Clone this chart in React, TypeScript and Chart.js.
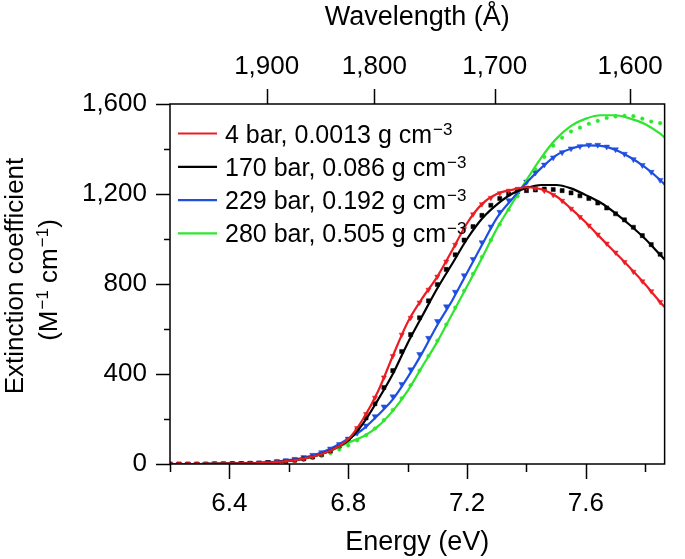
import React, { useEffect, useRef } from 'react';
import { Chart, registerables } from 'chart.js';
Chart.register(...registerables);

const HC = 12398.42; // eV·Å

// Axis ticks
const energyMajorTicks = [6.4, 6.8, 7.2, 7.6];
const energyMinorTicks = [6.2, 6.6, 7.0, 7.4, 7.8];
const yMajorTicks = [0, 400, 800, 1200, 1600];
const yMinorTicks = [200, 600, 1000, 1400];
const wavelengthTicks = [1900, 1800, 1700, 1600];

// Series labels
const seriesLabels = ['4 bar, 0.0013 g cm', '170 bar, 0.086 g cm', '229 bar, 0.192 g cm', '280 bar, 0.505 g cm'];
const seriesSup = '\u22123';
const seriesColors = ['#ec1c24', '#000000', '#1f4fe0', '#2ee62e'];

// Fit curves (lines)
const fitEnergy = [6.20, 6.25, 6.30, 6.35, 6.40, 6.45, 6.50, 6.55, 6.60, 6.65,
  6.70, 6.75, 6.80, 6.85, 6.90, 6.95, 7.00, 7.05, 7.10, 7.15,
  7.20, 7.25, 7.30, 7.35, 7.40, 7.45, 7.50, 7.55, 7.60, 7.65,
  7.70, 7.75, 7.80, 7.85, 7.87];
const fitRed = [0, 0, 0, 1, 1.5, 2.5, 4, 8, 14, 24,
  40, 66, 110, 200, 322, 480, 630, 738, 833, 950,
  1070, 1155, 1200, 1218, 1230, 1221, 1190, 1135, 1073, 1005,
  938, 870, 798, 720, 690];
const fitBlack = [0, 0, 0, 1, 1.5, 2.5, 4, 8, 14, 24,
  40, 66, 105, 180, 285, 400, 537, 660, 781, 890,
  1000, 1090, 1153, 1200, 1227, 1240, 1240, 1225, 1195, 1161,
  1114, 1060, 1000, 930, 902];
const fitBlue = [0, 0, 0, 1, 1.5, 3, 5, 10, 17, 28,
  46, 74, 112, 155, 217, 287, 385, 496, 618, 727,
  850, 973, 1093, 1175, 1250, 1316, 1372, 1401, 1416, 1414,
  1396, 1362, 1318, 1262, 1235];
const fitGreen = [0, 0, 0, 1, 1.5, 2.5, 4, 8, 14, 24,
  40, 64, 95, 122, 167, 236, 325, 435, 544, 667,
  790, 915, 1045, 1155, 1262, 1362, 1445, 1503, 1535, 1550,
  1550, 1535, 1510, 1468, 1445];

// Measured points (markers)
const markerEnergy = [6.20, 6.23, 6.26, 6.29, 6.32, 6.35, 6.38, 6.41, 6.44, 6.47,
  6.50, 6.53, 6.56, 6.59, 6.62, 6.65, 6.68, 6.71, 6.74, 6.77,
  6.80, 6.83, 6.86, 6.89, 6.92, 6.95, 6.98, 7.01, 7.04, 7.07,
  7.10, 7.13, 7.16, 7.19, 7.22, 7.25, 7.28, 7.31, 7.34, 7.37,
  7.40, 7.43, 7.46, 7.49, 7.52, 7.55, 7.58, 7.61, 7.64, 7.67,
  7.70, 7.73, 7.76, 7.79, 7.82, 7.85];
const dataRed = [0, 0, 0, 0, 0, 0, 1, 1, 2, 3,
  4, 6, 9, 12, 17, 23, 32, 44, 60, 82,
  110, 160, 222, 295, 385, 480, 575, 650, 718, 775,
  833, 900, 975, 1045, 1110, 1155, 1183, 1203, 1215, 1223,
  1229, 1226, 1215, 1196, 1170, 1135, 1098, 1060, 1020, 980,
  940, 898, 855, 812, 768, 720];
const dataBlack = [0, 0, 0, 0, 0, 1, 1, 2, 2, 3,
  4, 6, 9, 12, 17, 23, 31, 42, 58, 80,
  108, 150, 205, 268, 340, 415, 500, 575, 650, 725,
  798, 865, 930, 995, 1055, 1105, 1150, 1180, 1200, 1210,
  1215, 1218, 1222, 1220, 1215, 1205, 1192, 1180, 1160, 1138,
  1112, 1085, 1052, 1015, 975, 932];
const dataBlue = [0, 0, 0, 0, 0, 1, 1, 2, 3, 4,
  6, 8, 12, 16, 22, 30, 40, 52, 68, 88,
  112, 138, 170, 212, 255, 300, 355, 420, 488, 560,
  635, 700, 765, 838, 910, 985, 1055, 1120, 1172, 1215,
  1255, 1295, 1330, 1362, 1385, 1402, 1412, 1418, 1418, 1410,
  1398, 1378, 1354, 1328, 1298, 1262];
const dataGreen = [0, 0, 0, 0, 0, 0, 1, 1, 2, 3,
  4, 6, 8, 11, 15, 20, 27, 36, 48, 64,
  82, 105, 128, 158, 195, 240, 292, 350, 415, 480,
  548, 620, 695, 770, 845, 920, 995, 1065, 1130, 1190,
  1250, 1310, 1365, 1415, 1450, 1478, 1495, 1512, 1525, 1538,
  1545, 1548, 1546, 1535, 1522, 1515];

const X_MIN = 6.2;
const X_MAX = 7.865;
const FONT = "'Liberation Sans', Arial, Helvetica, sans-serif";

const fitSeries = [fitRed, fitBlack, fitBlue, fitGreen];
const dataSeries = [dataRed, dataBlack, dataBlue, dataGreen];
const markerStyles = ['triangle', 'rect', 'triangle', 'circle'];
const markerRadius = [3, 2.9, 3.3, 1.8];
const markerRotation = [180, 0, 180, 0];

const decorPlugin = {
  id: 'decor',
  afterDraw(chart: any) {
    const ctx = chart.ctx as CanvasRenderingContext2D;
    const a = chart.chartArea;
    const xs = chart.scales.x;
    const ys = chart.scales.y;
    ctx.save();
    ctx.strokeStyle = '#000';
    ctx.lineWidth = 1.5;
    ctx.strokeRect(a.left, a.top, a.right - a.left, a.bottom - a.top);
    ctx.lineWidth = 1.5;
    ctx.beginPath();
    for (const v of energyMajorTicks) {
      const p = Math.round(xs.getPixelForValue(v)) + 0.5;
      ctx.moveTo(p, a.bottom); ctx.lineTo(p, a.bottom + 15);
    }
    for (const v of energyMinorTicks) {
      const p = Math.round(xs.getPixelForValue(v)) + 0.5;
      ctx.moveTo(p, a.bottom); ctx.lineTo(p, a.bottom + 8);
    }
    for (const w of wavelengthTicks) {
      const p = Math.round(xs.getPixelForValue(HC / w)) + 0.5;
      ctx.moveTo(p, a.top); ctx.lineTo(p, a.top - 15);
    }
    for (const v of yMajorTicks) {
      const p = Math.round(ys.getPixelForValue(v)) + 0.5;
      ctx.moveTo(a.left, p); ctx.lineTo(a.left - 14, p);
    }
    for (const v of yMinorTicks) {
      const p = Math.round(ys.getPixelForValue(v)) + 0.5;
      ctx.moveTo(a.left, p); ctx.lineTo(a.left - 6, p);
    }
    ctx.stroke();

    // Legend
    const fits = chart.data.datasets.slice(0, 4);
    fits.forEach((ds: any, i: number) => {
      const cy = a.top + 29.5 + i * 33.3;
      ctx.strokeStyle = ds.borderColor;
      ctx.lineWidth = 2.2;
      ctx.beginPath();
      ctx.moveTo(a.left + 8, cy);
      ctx.lineTo(a.left + 47, cy);
      ctx.stroke();
      ctx.fillStyle = '#000';
      ctx.textBaseline = 'alphabetic';
      ctx.textAlign = 'left';
      ctx.font = `25px ${FONT}`;
      const tx = a.left + 55;
      ctx.fillText(ds.label, tx, cy + 9);
      const w = ctx.measureText(ds.label).width;
      ctx.font = `17px ${FONT}`;
      ctx.fillText(seriesSup, tx + w + 1, cy + 1);
    });

    // Y-axis title (two lines, rotated)
    ctx.fillStyle = '#000';
    ctx.save();
    ctx.translate(23, 276);
    ctx.rotate(-Math.PI / 2);
    ctx.textAlign = 'center';
    ctx.textBaseline = 'alphabetic';
    ctx.font = `26px ${FONT}`;
    ctx.fillText('Extinction coefficient', 0, 0);
    ctx.restore();

    ctx.save();
    ctx.translate(57, 280);
    ctx.rotate(-Math.PI / 2);
    ctx.textBaseline = 'alphabetic';
    ctx.textAlign = 'left';
    const parts: [string, boolean][] = [['(M', false], ['\u22121', true], [' cm', false], ['\u22121', true], [')', false]];
    const widths = parts.map(([t, sup]) => {
      ctx.font = `${sup ? 17 : 26}px ${FONT}`;
      return ctx.measureText(t).width + (sup ? 1 : 0);
    });
    const total = widths.reduce((s, v) => s + v, 0);
    let px = -total / 2;
    parts.forEach(([t, sup], i) => {
      ctx.font = `${sup ? 17 : 26}px ${FONT}`;
      ctx.fillText(t, px + (sup ? 1 : 0), sup ? -9 : 0);
      px += widths[i];
    });
    ctx.restore();
    ctx.restore();
  },
};

export default function App() {
  const ref = useRef<HTMLCanvasElement>(null);
  useEffect(() => {
    document.body.style.margin = '0';
    Chart.defaults.color = '#000';
    Chart.defaults.font.family = FONT;

    const fitDatasets = fitSeries.map((vals, i) => ({
      label: seriesLabels[i],
      data: fitEnergy.map((e, j) => ({ x: e, y: vals[j] })),
      borderColor: seriesColors[i],
      backgroundColor: seriesColors[i],
      borderWidth: 2.2,
      pointRadius: 0,
      showLine: true,
      cubicInterpolationMode: 'monotone' as const,
      order: 1,
    }));
    const pointDatasets = dataSeries.map((vals, i) => ({
      label: seriesLabels[i] + ' data',
      data: markerEnergy.map((e, j) => ({ x: e, y: vals[j] })),
      borderColor: seriesColors[i],
      backgroundColor: seriesColors[i],
      borderWidth: 0.5,
      pointRadius: markerRadius[i],
      pointStyle: markerStyles[i] as any,
      rotation: markerRotation[i],
      showLine: false,
      order: 2,
    }));

    const tickFont = { size: 26, family: FONT };
    const chart = new Chart(ref.current!, {
      type: 'line',
      data: { datasets: [...fitDatasets, ...pointDatasets] as any },
      plugins: [decorPlugin],
      options: {
        responsive: false,
        animation: false,
        devicePixelRatio: 1,
        layout: { padding: { left: 0, right: 3, top: 0, bottom: 0 } },
        plugins: { legend: { display: false }, tooltip: { enabled: false } },
        scales: {
          x: {
            type: 'linear',
            position: 'bottom',
            min: X_MIN,
            max: X_MAX,
            grid: { display: false, drawTicks: false },
            border: { display: false },
            afterBuildTicks: (s: any) => { s.ticks = energyMajorTicks.map((v) => ({ value: v })); },
            afterFit: (s: any) => { s.height = 95; },
            ticks: {
              font: tickFont,
              padding: 24,
              maxRotation: 0,
              autoSkip: false,
              callback: (v: any) => Number(v).toFixed(1),
            },
            title: { display: true, text: 'Energy (eV)', font: { size: 27, family: FONT }, padding: { top: 0, bottom: 0 } },
          },
          x2: {
            type: 'linear',
            position: 'top',
            min: X_MIN,
            max: X_MAX,
            grid: { display: false, drawTicks: false },
            border: { display: false },
            afterBuildTicks: (s: any) => { s.ticks = wavelengthTicks.map((w) => ({ value: HC / w })); },
            afterFit: (s: any) => { s.height = 104; },
            ticks: {
              font: tickFont,
              padding: 22,
              maxRotation: 0,
              autoSkip: false,
              callback: (v: any) => Math.round(HC / Number(v)).toLocaleString('en-US'),
            },
            title: { display: true, text: 'Wavelength (Å)', font: { size: 27, family: FONT }, padding: { top: 1, bottom: 0 } },
          },
          y: {
            type: 'linear',
            position: 'left',
            min: 0,
            max: 1600,
            grid: { display: false, drawTicks: false },
            border: { display: false },
            afterBuildTicks: (s: any) => { s.ticks = yMajorTicks.map((v) => ({ value: v })); },
            afterFit: (s: any) => { s.width = 170; },
            ticks: {
              font: tickFont,
              padding: 23,
              callback: (v: any) => Number(v).toLocaleString('en-US'),
            },
          },
        },
      } as any,
    });
    return () => chart.destroy();
  }, []);
  return (
    <div style={{ width: 685, height: 559 }}>
      <canvas ref={ref} width={685} height={559} style={{ display: 'block' }} />
    </div>
  );
}
